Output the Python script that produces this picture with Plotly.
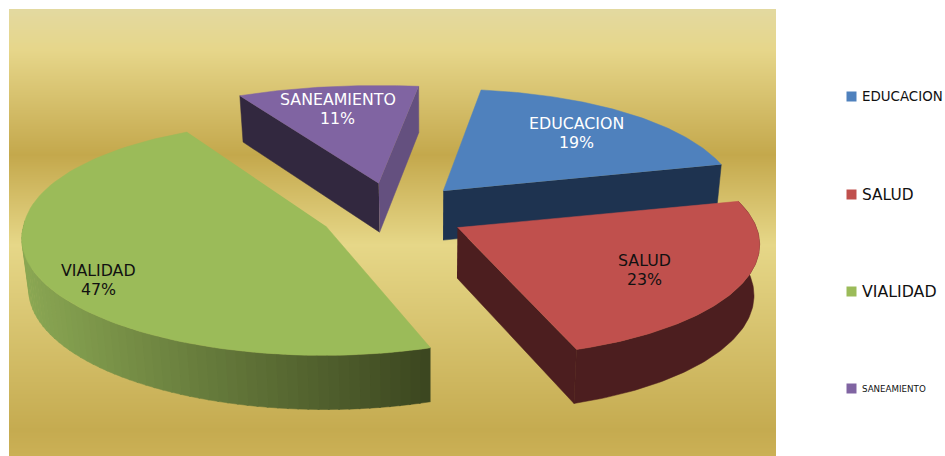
import numpy as np
import plotly.graph_objects as go

categories = ["EDUCACION", "SALUD", "VIALIDAD", "SANEAMIENTO"]
shares = [19, 23, 47, 11]
top_colors = ["#4f81bd", "#c0504d", "#9bbb59", "#8064a2"]
label_colors = ["#ffffff", "#111111", "#111111", "#ffffff"]
label_fracs = [0.73, 0.68, 0.837, 0.74]
label_turn = [0, 0, -5, -2]
legend_sizes = [13.4, 15.4, 15.8, 8.7]

# hand-fitted perspective warp for each slice
x_scale = [0.97, 0.99, 1.0, 1.05]
y_scale_back = [1.0, 1.0, 1.03, 0.96]
shear_back = [0.0, 0.107, 0.078, 0.01]
shear_front = [0.0, 0.107, -0.018, 0.0]

W, H = 945, 456
CX, CY, TILT, EXPLODE, START = 392.6, 213.0, 0.41, 74.0, 9.0


def radius(theta):
    c = np.cos(np.radians(theta))
    return 302 - 33.7 * c - 20 * c * c


def top(i, apex, theta, warp=True):
    r = radius(theta)
    t = np.radians(theta)
    dx = r * np.sin(t)
    dy = -TILT * r * np.cos(t)
    if warp:
        dx = dx * x_scale[i]
        dx = dx + np.where(dy < 0, shear_back[i], shear_front[i]) * dy
        dy = np.where(dy < 0, dy * y_scale_back[i], dy)
    return apex[0] + dx, apex[1] + dy


def low(x, y):
    return x + (430 - x) * 0.017, y + 43.5 + 0.03 * y


def arc(a, b, n=90):
    return np.linspace(a, b, n)


def poly(fig, x, y, color):
    fig.add_trace(go.Scatter(x=list(x), y=list(y), mode="lines", fill="toself",
                             fillcolor=color, line=dict(color=color, width=0.5),
                             hoverinfo="skip", showlegend=False))


def side_cut(fig, i, apex, theta, color):
    ex, ey = top(i, apex, theta)
    bx0, by0 = low(*apex)
    bx1, by1 = low(ex, ey)
    poly(fig, [apex[0], ex, bx1, bx0], [apex[1], ey, by1, by0], color)


def side_rim(fig, i, apex, a, b, color):
    x, y = top(i, apex, arc(a, b))
    bx, by = low(x, y)
    poly(fig, np.r_[x, bx[::-1]], np.r_[y, by[::-1]], color)


def mix(c0, c1, f):
    return "rgb(%d,%d,%d)" % tuple(round(p + (q - p) * f) for p, q in zip(c0, c1))


fig = go.Figure()

# background gradient
edges = np.arange(9, 457)
bg_stops = [(9, "#e3d9a0"), (50, "#e6d68a"), (155, "#c4a84c"), (245, "#e6d788"),
            (430, "#c5ab50"), (456, "#cbb055")]
bg_scale = [[(y - 9) / 447, c] for y, c in bg_stops]
fig.add_trace(go.Heatmap(x=[9, 776], y=edges, z=[[v] for v in (edges[:-1] + 0.5)],
                         zmin=9, zmax=456, colorscale=bg_scale, showscale=False, hoverinfo="skip"))

# slice geometry from the values
spans, a0 = [], START
for s in shares:
    a1 = a0 + s * 3.6
    spans.append((a0, a1))
    a0 = a1

apexes = []
for (a, b) in spans:
    m = np.radians((a + b) / 2)
    apexes.append((CX + EXPLODE * np.sin(m), CY - TILT * EXPLODE * np.cos(m)))

# back to front: SANEAMIENTO, EDUCACION, VIALIDAD, SALUD
a, b = spans[3]
side_cut(fig, 3, apexes[3], a, "#32283f")
side_cut(fig, 3, apexes[3], b, "#64507f")

a, b = spans[0]
side_cut(fig, 0, apexes[0], b, "#1e3350")

a, b = spans[2]
steps = np.linspace(a, 272, 60)
for k in range(len(steps) - 1):
    x0, _ = top(2, apexes[2], steps[k])
    f = np.clip((x0 - 25) / 405, 0, 1)
    side_rim(fig, 2, apexes[2], steps[k], steps[k + 1] + 0.3,
             mix((0x8a, 0xa7, 0x53), (0x3c, 0x47, 0x20), f))

a, b = spans[1]
side_cut(fig, 1, apexes[1], b, "#4c1e1f")
side_rim(fig, 1, apexes[1], a, b, "#4c1e1f")

for i in [3, 0, 2, 1]:
    a, b = spans[i]
    x, y = top(i, apexes[i], arc(a, b))
    poly(fig, np.r_[apexes[i][0], x], np.r_[apexes[i][1], y], top_colors[i])

# slice labels
for i, name in enumerate(categories):
    a, b = spans[i]
    m = (a + b) / 2 + label_turn[i]
    x, y = top(i, apexes[i], m, warp=False)
    f = label_fracs[i]
    lx = apexes[i][0] + (x - apexes[i][0]) * f
    ly = apexes[i][1] + (y - apexes[i][1]) * f
    for text, off in ((name, -9.5), (f"{shares[i]}%", 9.5)):
        fig.add_annotation(x=lx, y=ly + off, text=text, showarrow=False,
                           font=dict(family="DejaVu Sans", size=15.8, color=label_colors[i]))

# legend
legend_y = [96.5, 194.5, 291.5, 388.5]
fig.add_trace(go.Scatter(x=[851.5] * 4, y=legend_y, mode="markers",
                         marker=dict(symbol="square", size=10, color=top_colors, line=dict(width=0)),
                         hoverinfo="skip", showlegend=False))
for name, ly, fs in zip(categories, legend_y, legend_sizes):
    fig.add_annotation(x=860, y=ly, text=name, showarrow=False, xanchor="left",
                       font=dict(family="DejaVu Sans", size=fs, color="#111111"))

fig.update_layout(width=W, height=H, margin=dict(l=0, r=0, t=0, b=0),
                  paper_bgcolor="white", plot_bgcolor="white", showlegend=False,
                  xaxis=dict(range=[0, W], visible=False, fixedrange=True),
                  yaxis=dict(range=[H, 0], visible=False, fixedrange=True))
fig.write_html("out.html", config=dict(displayModeBar=False),
               post_script="document.body.style.margin='0';")
